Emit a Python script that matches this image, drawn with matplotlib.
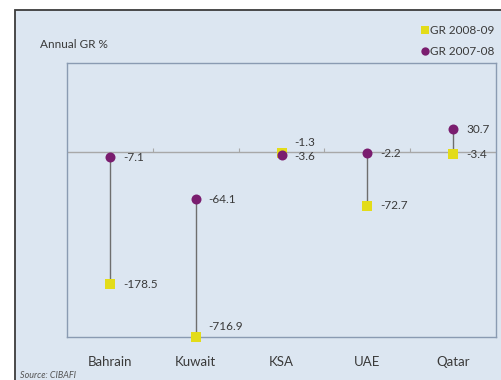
import numpy as np
import matplotlib
matplotlib.use("Agg")
import matplotlib.pyplot as plt
from matplotlib.patches import Rectangle
from matplotlib.lines import Line2D
from matplotlib.markers import TICKUP

plt.rcParams['font.family'] = ['Lato', 'DejaVu Sans']

# Data
countries = ["Bahrain", "Kuwait", "KSA", "UAE", "Qatar"]
gr_2008_09 = [-178.5, -716.9, -1.3, -72.7, -3.4]
gr_2007_08 = [-7.1, -64.1, -3.6, -2.2, 30.7]
y_limits = (-250, 120)

# Styling
BG = "#dce6f1"
PURPLE = "#7a1d6f"
YELLOW = "#e3dc1a"
TEXT = "#3a3a3a"
STEM = "#6e6e6e"
FRAME = "#8a9bb2"

fig = plt.figure(figsize=(5.02, 3.80), dpi=100)
fig.patch.set_facecolor("white")

# Outer panel with dark border
W, H = 502, 380
panel = Rectangle((15 / W, -0.1), 1.2, 1 - 10 / H + 0.1, transform=fig.transFigure,
                  facecolor=BG, edgecolor="#3c3c3c", linewidth=1.3, zorder=-5)
fig.patches.append(panel)

ax = fig.add_axes([67 / W, 1 - 337 / H, (496 - 67) / W, (337 - 63) / H])
ax.set_zorder(2)
ax.set_facecolor(BG)
for s in ax.spines.values():
    s.set_color(FRAME)
    s.set_linewidth(1.0)

x = np.arange(len(countries))
ax.set_xlim(-0.5, len(countries) - 0.5)
ax.set_ylim(*y_limits)

# Values beyond the axis floor are pinned to it
y08 = np.clip(gr_2008_09, *y_limits)
y07 = np.clip(gr_2007_08, *y_limits)

# Zero line with category separators
ax.axhline(0, color="#a8a8a8", linewidth=1.0, zorder=1)
sep = np.arange(len(countries) - 1) + 0.5
ax.plot(sep, np.zeros_like(sep), linestyle="none", marker=TICKUP, markersize=3,
        markeredgewidth=0.8, color="#a8a8a8", zorder=1)

# Stems joining the two periods
ax.vlines(x, y08, y07, color=STEM, linewidth=1.0, zorder=2)

ax.plot(x, y08, linestyle="none", marker="s", markersize=6.5, color=YELLOW,
        markeredgewidth=0, zorder=3, clip_on=False)
ax.plot(x, y07, linestyle="none", marker="o", markersize=7.2, color=PURPLE,
        markeredgewidth=0, zorder=4, clip_on=False)

# Data labels
off08 = {1: 10, 2: 10}
for i in range(len(countries)):
    ax.annotate(f"{gr_2008_09[i]:.1f}", (x[i], y08[i]), xytext=(13, off08.get(i, 0)),
                textcoords="offset pixels", ha="left", va="center",
                fontsize=8.5, color=TEXT, zorder=5)
    ax.annotate(f"{gr_2007_08[i]:.1f}", (x[i], y07[i]), xytext=(13, -2 if i == 2 else 0),
                textcoords="offset pixels", ha="left", va="center",
                fontsize=8.5, color=TEXT, zorder=5)

ax.set_xticks(x)
ax.set_xticklabels(countries, fontsize=9.5, color=TEXT)
ax.tick_params(axis="x", length=0, pad=14)
ax.set_yticks([])

# Titles and legend
fig.text(40 / W, 1 - 45 / H, "Annual GR %", fontsize=8.5, color=TEXT, ha="left", va="center")
handles = [
    Line2D([], [], linestyle="none", marker="s", markersize=6, color=YELLOW,
           markeredgewidth=0, label="GR 2008-09"),
    Line2D([], [], linestyle="none", marker="o", markersize=6, color=PURPLE,
           markeredgewidth=0, label="GR 2007-08"),
]
leg = fig.legend(handles=handles, loc="upper left", bbox_to_anchor=(421 / W, 1 - 25 / H),
                 frameon=False, fontsize=8.5, handlelength=0.6, handletextpad=0.2,
                 labelspacing=0.85, borderaxespad=0, borderpad=0)
for t in leg.get_texts():
    t.set_color(TEXT)

fig.text(20 / W, 1 - 375 / H, "Source: CIBAFI", fontsize=6.5, style="italic",
         color="#555555", ha="left", va="center")

fig.savefig("out.png", dpi=100)
